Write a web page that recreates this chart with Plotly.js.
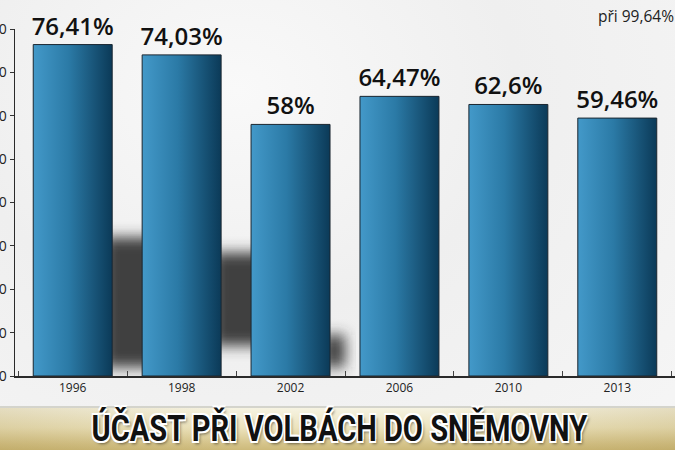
<!DOCTYPE html>
<html>
<head>
<meta charset="utf-8">
<script src="https://cdn.plot.ly/plotly-3.0.1.min.js"></script>
<style>
  html, body { margin: 0; padding: 0; }
  body { width: 675px; height: 450px; overflow: hidden; position: relative;
    background: radial-gradient(ellipse at 35% 20%, #f9f9f9 0%, #efefef 45%, #f6f6f6 100%); }
  #banner { position: absolute; left: 0; top: 406px; width: 675px; height: 44px;
    border-top: 2px solid #d4d4cc;
    background: linear-gradient(to right, rgba(150,120,40,0.18) 0%, rgba(255,255,255,0) 35%, rgba(255,255,255,0) 65%, rgba(150,120,40,0.18) 100%),
                linear-gradient(to bottom, #f6f3e2 0%, #ece3bd 45%, #d6c58c 80%, #c9b675 100%); }
  #chart { position: absolute; left: 0; top: 0; width: 675px; height: 450px; }
</style>
</head>
<body>
<div id="banner"></div>
<div id="chart"></div>
<script>
const years = ["1996", "1998", "2002", "2006", "2010", "2013"];
const turnout = [76.41, 74.03, 58, 64.47, 62.6, 59.46];
const yTicks = [0, 10, 20, 30, 40, 50, 60, 70, 80];
const chartTitle = "ÚČAST PŘI VOLBÁCH DO SNĚMOVNY";
const noteText = "při 99,64%";

const labels = turnout.map(v => String(v).replace('.', ',') + '%');

const trace = {
  type: 'bar',
  x: years,
  y: turnout,
  text: labels,
  textposition: 'outside',
  constraintext: 'none',
  cliponaxis: false,
  textfont: { family: 'Open Sans', size: 24, weight: 600, color: '#111' },
  marker: { color: '#2a77a3', line: { color: '#1a2630', width: 1 } },
  hoverinfo: 'none'
};

// decorative soft shadows behind the gaps between bars (blurred after render)
const shadows = [
  { x0: 0.28, x1: 0.78, y0: 2, y1: 32 },
  { x0: 1.28, x1: 1.78, y0: 7, y1: 28.5 },
  { x0: 2.3, x1: 2.5, y0: 2, y1: 9.5 }
].map(s => ({ type: 'rect', layer: 'below', xref: 'x', yref: 'y',
  x0: s.x0, x1: s.x1, y0: s.y0, y1: s.y1,
  fillcolor: 'rgba(55,55,55,0.95)', line: { width: 0 } }));

const layout = {
  width: 675, height: 450,
  margin: { l: 15, r: 0, t: 29, b: 74, pad: 0 },
  paper_bgcolor: 'rgba(0,0,0,0)',
  plot_bgcolor: 'rgba(0,0,0,0)',
  bargap: 0.275,
  showlegend: false,
  xaxis: {
    type: 'category',
    range: [-0.53, 5.53],
    showline: true, linecolor: '#2a2a2a', linewidth: 1.5,
    ticks: 'inside', tickson: 'boundaries', ticklen: 5, tickcolor: '#444', tickwidth: 1,
    tickfont: { family: 'Open Sans', size: 12, color: '#222' },
    showgrid: false, zeroline: false, fixedrange: true
  },
  yaxis: {
    range: [0, 80],
    tickvals: yTicks,
    ticktext: yTicks.map(String),
    showline: true, linecolor: '#2a2a2a', linewidth: 1.5,
    ticks: 'outside', ticklen: 4, tickcolor: '#333', tickwidth: 1,
    tickfont: { family: 'Open Sans', size: 14, color: '#222' },
    showgrid: false, zeroline: false, fixedrange: true
  },
  shapes: shadows,
  annotations: [
    { xref: 'paper', yref: 'paper', x: 0.88, y: 1.037, xanchor: 'left', yanchor: 'middle',
      text: noteText, showarrow: false,
      font: { family: 'Open Sans', size: 15.5, color: '#222' } },
    { xref: 'paper', yref: 'paper', x: 0.492, y: -0.152, xanchor: 'center', yanchor: 'middle',
      text: chartTitle, showarrow: false,
      font: { family: 'Roboto', size: 37, weight: 'bold', color: '#111',
        shadow: '1.5px 1.5px 0 #fff, -1.5px -1.5px 0 #fff, 1.5px -1.5px 0 #fff, -1.5px 1.5px 0 #fff, 2px 3px 3px rgba(0,0,0,0.5)' } }
  ]
};

Plotly.newPlot('chart', [trace], layout, { staticPlot: true, displayModeBar: false }).then(function () {
  const svg = document.querySelector('#chart .main-svg');
  const defs = svg.querySelector('defs');
  const ns = 'http://www.w3.org/2000/svg';
  const grad = document.createElementNS(ns, 'linearGradient');
  grad.setAttribute('id', 'barGrad');
  grad.setAttribute('x1', '0'); grad.setAttribute('x2', '1');
  grad.setAttribute('y1', '0'); grad.setAttribute('y2', '0');
  [['0', '#4399c9'], ['0.45', '#2b7aa6'], ['1', '#0b3a58']].forEach(function (s) {
    const st = document.createElementNS(ns, 'stop');
    st.setAttribute('offset', s[0]); st.setAttribute('stop-color', s[1]);
    grad.appendChild(st);
  });
  defs.appendChild(grad);
  const filt = document.createElementNS(ns, 'filter');
  filt.setAttribute('id', 'softBlur');
  filt.setAttribute('x', '-50%'); filt.setAttribute('y', '-50%');
  filt.setAttribute('width', '200%'); filt.setAttribute('height', '200%');
  const gb = document.createElementNS(ns, 'feGaussianBlur');
  gb.setAttribute('stdDeviation', '7');
  filt.appendChild(gb);
  defs.appendChild(filt);
  document.querySelectorAll('#chart .barlayer .point path').forEach(function (p) {
    p.style.setProperty('fill', 'url(#barGrad)');
    p.style.setProperty('fill-opacity', '1');
  });
  document.querySelectorAll('#chart .shapelayer path').forEach(function (p) {
    p.style.setProperty('filter', 'url(#softBlur)');
    p.removeAttribute('clip-path');
  });
  // condense the banner title horizontally to match the narrow poster type
  const anns = document.querySelectorAll('#chart .annotation');
  const t = anns[1].querySelector('text');
  const bb = t.getBBox();
  const target = 496;
  const s = target / bb.width;
  const cx = bb.x + bb.width / 2;
  t.setAttribute('transform', 'translate(' + cx + ',0) scale(' + s + ',1) translate(' + (-cx) + ',0)');
});
</script>
</body>
</html>
